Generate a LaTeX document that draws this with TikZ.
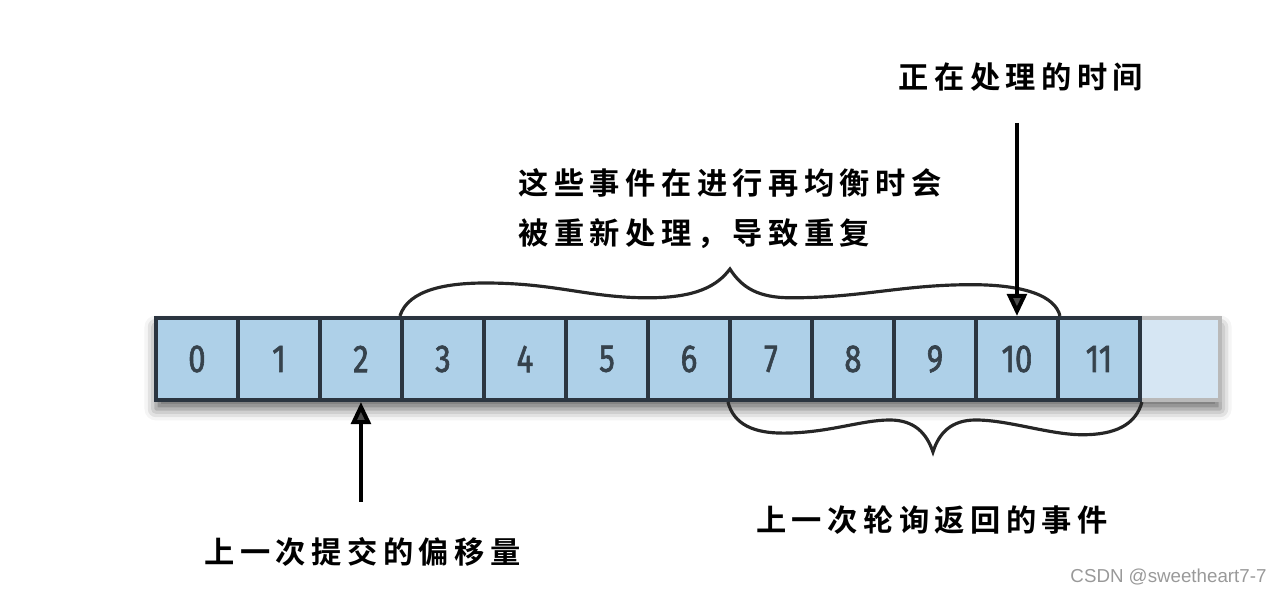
\documentclass[tikz,border=0pt]{standalone}
\usepackage{fontspec}
\usepackage{tikz}
\usetikzlibrary{arrows, arrows.meta, shadows.blur}
\newfontfamily\cjk{Noto Sans CJK SC}[LetterSpace=18, UprightFont=* Bold]
\newfontfamily\numfont{Fira Sans}[FakeStretch=0.8, FakeBold=1.6]
\setsansfont{Liberation Sans}
\definecolor{cellblue}{HTML}{AED0E8}
\definecolor{cellfade}{HTML}{D6E6F3}
\definecolor{celledge}{HTML}{2B3540}
\definecolor{numgray}{HTML}{36424C}

\begin{document}
\begin{tikzpicture}[
    cell/.style={draw=celledge, line width=1.4pt, fill=cellblue, minimum size=1cm, inner sep=0pt,
        font=\numfont\fontsize{13.5}{14}\selectfont, text=numgray},
    notetext/.style={font=\cjk\fontsize{10.5}{17.3}\selectfont, text=black, inner sep=0pt},
    brace/.style={line width=1.1pt, black!85},
    ptr/.style={line width=1.4pt, -{Triangle[length=2.7mm, width=2.4mm]}}
]
    \useasboundingbox (0,0) rectangle (15.61,7.232);

    \path[fill=cellblue, blur shadow={shadow xshift=0cm, shadow yshift=-0.11cm, shadow blur radius=0.14cm, shadow opacity=60}]
        (1.902,2.354) rectangle (14.88,3.354);

    \node[cell, fill=cellfade, draw=gray!55, minimum width=0.976cm] (c12) at (14.39,2.854) {};
    \foreach \i in {0,...,11}
        \node[cell] (c\i) at (2.402+\i, 2.854) {\i};

    \node[notetext] (cur) at (12.451,6.293) {正在处理的时间};
    \node[notetext, align=left, anchor=north west] (rebal) at (6.317,5.183) {这些事件在进行再均衡时会\\被重新处理，导致重复};
    \node[notetext] (commit) at (4.421,0.5) {上一次提交的偏移量};
    \node[notetext] (poll) at (11.366,0.89) {上一次轮询返回的事件};
    \node[font=\sffamily\fontsize{6.5}{7}\selectfont, text=gray!80, inner sep=0pt] (mark) at (14.25,0.195) {CSDN @sweetheart7-7};

    \draw[brace] (c3.north west) .. controls (4.98,3.70) and (5.45,3.79) .. (6.0,3.78)
        .. controls (6.8,3.77) and (7.2,3.60) .. (7.9,3.60)
        .. controls (8.5,3.60) and (8.75,3.75) .. (8.902,3.951)
        .. controls (9.05,3.72) and (9.25,3.60) .. (9.65,3.60)
        .. controls (10.5,3.60) and (11.0,3.76) .. (11.85,3.76)
        .. controls (12.5,3.76) and (12.87,3.62) .. (c10.north east);

    \draw[brace] (c7.south west) .. controls (8.95,2.05) and (9.2,1.95) .. (9.55,1.95)
        .. controls (10.1,1.95) and (10.5,2.11) .. (10.85,2.11)
        .. controls (11.15,2.11) and (11.3,1.95) .. (11.378,1.72)
        .. controls (11.45,1.95) and (11.6,2.11) .. (11.9,2.11)
        .. controls (12.3,2.11) and (12.8,1.93) .. (13.2,1.93)
        .. controls (13.6,1.93) and (13.85,2.05) .. (c11.south east);

    \coordinate (curtail) at (12.402,5.732);
    \coordinate (committail) at (4.402,1.11);
    \draw[ptr] (curtail) -- (c10.north);
    \draw[ptr] (committail) -- (c2.south);

\end{tikzpicture}
\end{document}
